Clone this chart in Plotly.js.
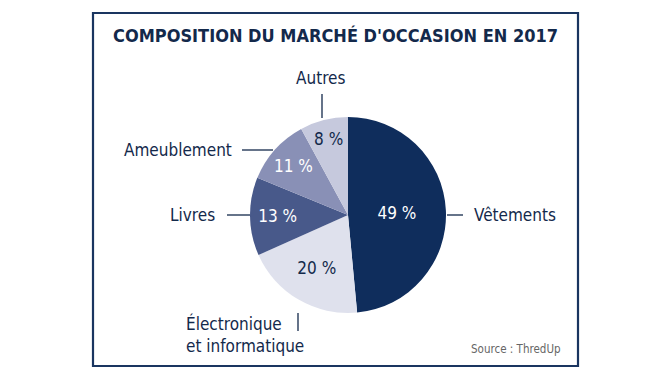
<!DOCTYPE html>
<html><head><meta charset="utf-8">
<script src="https://cdn.plot.ly/plotly-3.0.1.min.js"></script>
<style>html,body{margin:0;padding:0;background:#fff}#c{width:670px;height:377px}
#c text{font-stretch:condensed !important;}
</style>
</head><body><div id="c"></div>
<script>
const categories = ['Vêtements', 'Électronique<br>et informatique', 'Livres', 'Ameublement', 'Autres'];
const values = [49, 20, 13, 11, 8];
const pctLabels = ['49 %', '20 %', '13 %', '11 %', '8 %'];
const colors = ['#0f2d5c', '#dfe1ed', '#48598a', '#8990b6', '#c6c9dd'];
const textColors = ['#ffffff', '#13294b', '#ffffff', '#ffffff', '#13294b'];

const W = 670, H = 377;
const px = x => x / W, py = y => 1 - y / H;
const FONT = '"DejaVu Sans Condensed", "DejaVu Sans", sans-serif';
const NAVY = '#13294b';

const cx = 348, cy = 215, r = 98;

const trace = {
  type: 'pie',
  values: values,
  labels: categories,
  text: pctLabels,
  textinfo: 'text',
  textposition: 'inside',
  insidetextorientation: 'horizontal',
  sort: false,
  direction: 'clockwise',
  rotation: 0,
  marker: {colors: colors, line: {width: 0}},
  textfont: {family: FONT, size: 17, color: textColors},
  hoverinfo: 'none',
  domain: {x: [px(cx - r), px(cx + r)], y: [py(cy + r), py(cy - r)]}
};

const lbl = (text, x, y, xanchor, yanchor) => ({
  text: text, xref: 'paper', yref: 'paper', x: px(x), y: py(y),
  xanchor: xanchor, yanchor: yanchor || 'middle', showarrow: false, align: 'left',
  font: {family: FONT, size: 17, color: NAVY}
});
const seg = (x0, y0, x1, y1) => ({
  type: 'line', xref: 'paper', yref: 'paper', x0: px(x0), y0: py(y0), x1: px(x1), y1: py(y1),
  line: {color: NAVY, width: 1.3}
});

const layout = {
  width: W, height: H,
  margin: {l: 0, r: 0, t: 0, b: 0},
  paper_bgcolor: '#ffffff',
  showlegend: false,
  annotations: [
    {text: "<b>COMPOSITION DU MARCHÉ D'OCCASION EN 2017</b>", xref: 'paper', yref: 'paper',
     x: px(335), y: py(35), xanchor: 'center', yanchor: 'middle', showarrow: false,
     font: {family: FONT, size: 18, color: NAVY}},
    lbl('Vêtements', 472, 215, 'left'),
    lbl('Livres', 217, 215, 'right'),
    lbl('Ameublement', 234, 150, 'right'),
    lbl('Autres', 320, 78, 'center'),
    lbl('Électronique<br>et informatique', 184, 334, 'left'),
    {text: 'Source : ThredUp', xref: 'paper', yref: 'paper', x: px(563), y: py(349),
     xanchor: 'right', yanchor: 'middle', showarrow: false,
     font: {family: FONT, size: 11.5, color: '#666666'}}
  ],
  shapes: [
    {type: 'rect', xref: 'paper', yref: 'paper', x0: px(93), y0: py(13), x1: px(578), y1: py(366),
     line: {color: '#1a3560', width: 2.2}},
    seg(447, 215, 463, 215),
    seg(227, 215, 250, 215),
    seg(242, 150, 273, 150),
    seg(322, 94, 322, 118),
    seg(298, 313, 298, 331)
  ]
};

Plotly.newPlot('c', [trace], layout, {staticPlot: true, displayModeBar: false});
</script></body></html>
